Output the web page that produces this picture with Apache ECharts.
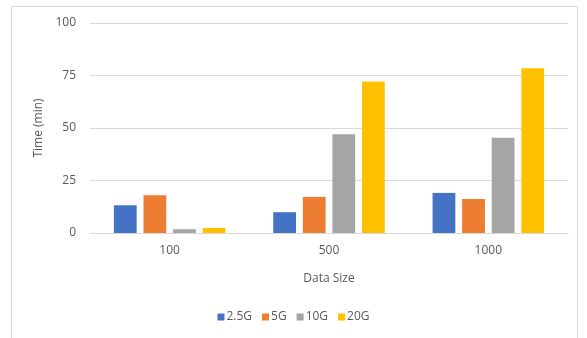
<!DOCTYPE html>
<html>
<head>
<meta charset="utf-8">
<script src="https://cdn.jsdelivr.net/npm/echarts@6/dist/echarts.min.js"></script>
<style>
  html, body { margin: 0; padding: 0; background: #fff; }
  #main { width: 587px; height: 338px; }
</style>
</head>
<body>
<div id="main"></div>
<script>
// data
var categories = ['100', '500', '1000'];
var seriesNames = ['2.5G', '5G', '10G', '20G'];
var values25G = [13.2, 9.9, 19.1];
var values5G = [18.0, 17.2, 16.2];
var values10G = [1.8, 47.0, 45.4];
var values20G = [2.4, 72.1, 78.4];
var colors = ['#4472C4', '#ED7D31', '#A5A5A5', '#FFC000'];

var font = '"Open Sans", Lato, sans-serif';
var allValues = [values25G, values5G, values10G, values20G];

var chart = echarts.init(document.getElementById('main'));
chart.setOption({
  animation: false,
  textStyle: { fontFamily: font },
  graphic: [{
    type: 'rect',
    shape: { x: 11.5, y: 6.5, width: 566, height: 340 },
    style: { fill: 'none', stroke: '#d9d9d9', lineWidth: 1 },
    silent: true
  }],
  grid: { left: 90, right: 19, top: 23, bottom: 105 },
  legend: {
    data: seriesNames,
    bottom: 10,
    left: 'center',
    itemWidth: 7,
    itemHeight: 7,
    itemGap: 10,
    icon: 'rect',
    textStyle: { color: '#595959', fontSize: 12, fontFamily: font, padding: [0, 0, 0, -3] }
  },
  xAxis: {
    type: 'category',
    data: categories,
    name: 'Data Size',
    nameLocation: 'middle',
    nameGap: 40,
    nameTextStyle: { color: '#595959', fontSize: 12, fontFamily: font },
    axisLine: { lineStyle: { color: '#d9d9d9' } },
    axisTick: { show: false },
    axisLabel: { color: '#595959', fontSize: 12, margin: 12, fontFamily: font }
  },
  yAxis: {
    type: 'value',
    min: 0,
    max: 100,
    interval: 25,
    name: 'Time (min)',
    nameLocation: 'middle',
    nameGap: 43,
    nameRotate: 90,
    nameTextStyle: { color: '#595959', fontSize: 12, fontFamily: font },
    axisLine: { show: false },
    axisTick: { show: false },
    axisLabel: { color: '#595959', fontSize: 12, margin: 14, fontFamily: font },
    splitLine: { lineStyle: { color: '#d9d9d9' } }
  },
  series: seriesNames.map(function (n, i) {
    return {
      name: n,
      type: 'bar',
      data: allValues[i],
      itemStyle: { color: colors[i] },
      barGap: '30%',
      barCategoryGap: '30%'
    };
  })
});
</script>
</body>
</html>
